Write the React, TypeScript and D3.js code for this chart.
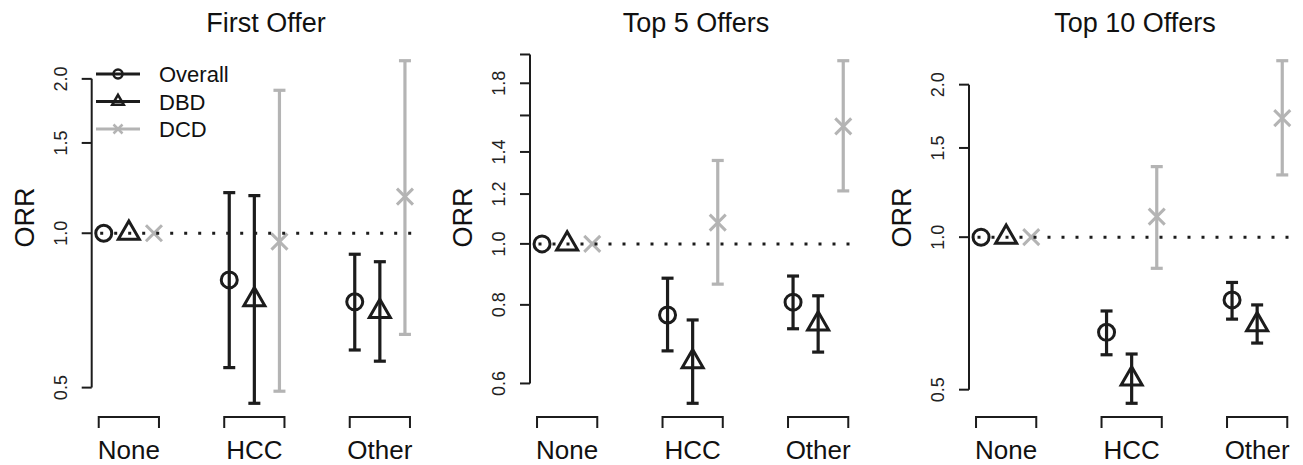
import React from 'react';
import * as d3 from 'd3';

// panel / group / series labels
const panelTitles = ['First Offer', 'Top 5 Offers', 'Top 10 Offers'];
const groups = ['None', 'HCC', 'Other'];
const seriesNames = ['Overall', 'DBD', 'DCD'];

// ORR estimates, rows = group (None, HCC, Other), cols = series (Overall, DBD, DCD)
const firstEst = [[1, 1, 1], [0.811, 0.742, 0.963], [0.735, 0.704, 1.179]];
const firstLo = [null, [0.547, 0.466, 0.492], [0.592, 0.563, 0.635]];
const firstHi = [null, [1.2, 1.184, 1.9], [0.91, 0.88, 2.17]];

const top5Est = [[1, 1, 1], [0.771, 0.65, 1.081], [0.808, 0.746, 1.537]];
const top5Lo = [null, [0.676, 0.558, 0.863], [0.733, 0.673, 1.214]];
const top5Hi = [null, [0.882, 0.757, 1.357], [0.889, 0.827, 1.955]];

const top10Est = [[1, 1, 1], [0.649, 0.525, 1.098], [0.752, 0.672, 1.718]];
const top10Lo = [null, [0.586, 0.47, 0.868], [0.689, 0.618, 1.327]];
const top10Hi = [null, [0.715, 0.588, 1.378], [0.814, 0.735, 2.23]];

// y tick values per panel
const firstTicks = [0.5, 1.0, 1.5, 2.0];
const top5Ticks = [0.6, 0.8, 1.0, 1.2, 1.4, 1.6, 1.8, 2.0];
const top10Ticks = [0.5, 1.0, 1.5, 2.0];

const panelData = [
  { est: firstEst, lo: firstLo, hi: firstHi, ticks: firstTicks },
  { est: top5Est, lo: top5Lo, hi: top5Hi, ticks: top5Ticks },
  { est: top10Est, lo: top10Lo, hi: top10Hi, ticks: top10Ticks },
];

const DARK = '#1c1c1c';
const GREY = '#b4b4b4';
const seriesColor = [DARK, DARK, GREY];
const FONT = '"Liberation Sans", Arial, Helvetica, sans-serif';

const panelLeft = [91.7, 530, 969];
const plotW = 325.3;
const plotTop = 47;
const plotBottom = 417;
const titleX = [266, 696, 1135];

const Marker = ({ type, x, y, size, color, sw }) => {
  if (type === 0) {
    return <circle cx={x} cy={y} r={size} fill="none" stroke={color} strokeWidth={sw} />;
  }
  if (type === 1) {
    const r = size * 1.555;
    const xc = size * 1.347;
    const yc = size * 0.7776;
    const pts = `${x},${y - r} ${x + xc},${y + yc} ${x - xc},${y + yc}`;
    return <polygon points={pts} fill="none" stroke={color} strokeWidth={sw} strokeLinejoin="miter" />;
  }
  const d = size;
  return (
    <path
      d={`M${x - d},${y - d}L${x + d},${y + d}M${x - d},${y + d}L${x + d},${y - d}`}
      stroke={color}
      strokeWidth={sw}
    />
  );
};

const Panel = ({ idx }) => {
  const { est, lo, hi, ticks } = panelData[idx];
  const left = panelLeft[idx];

  // position index like R: group g, series s -> 5g + s + 1, 4% padding on both scales
  const pos = (g, s) => 5 * g + s + 1;
  const x = d3.scaleLinear().domain([0.52, 13.48]).range([left, left + plotW]);

  const all = [];
  est.forEach((row, g) => row.forEach((v, s) => {
    all.push(v);
    if (lo[g]) all.push(lo[g][s]);
    if (hi[g]) all.push(hi[g][s]);
  }));
  const [mn, mx] = d3.extent(all.map(Math.log));
  const pad = (mx - mn) * 0.04;
  const y = d3.scaleLog().domain([Math.exp(mn - pad), Math.exp(mx + pad)]).range([plotBottom, plotTop]);

  // drop tick labels that would collide (like R's axis)
  const labelled = [];
  let lastY = null;
  ticks.forEach((t) => {
    const ty = y(t);
    if (lastY === null || Math.abs(lastY - ty) > 40) {
      labelled.push(t);
      lastY = ty;
    }
  });

  const y1 = y(1);
  const dotStart = x.range()[0];
  const dotEnd = x.range()[1];

  return (
    <g>
      <text x={titleX[idx]} y={32} textAnchor="middle" fontSize={27} fill="#111">
        {panelTitles[idx]}
      </text>

      {/* y axis */}
      <line x1={left} x2={left} y1={y(ticks[0])} y2={y(ticks[ticks.length - 1])} stroke={DARK} strokeWidth={2} />
      {ticks.map((t) => (
        <line key={t} x1={left - 10} x2={left} y1={y(t)} y2={y(t)} stroke={DARK} strokeWidth={2} />
      ))}
      {labelled.map((t) => (
        <text
          key={t}
          transform={`translate(${left - 25},${y(t)}) rotate(-90)`}
          textAnchor="middle"
          fontSize={18}
          fill="#222"
        >
          {t.toFixed(1)}
        </text>
      ))}
      <text
        transform={`translate(${left - 58},217.5) rotate(-90)`}
        textAnchor="middle"
        fontSize={27}
        fill="#111"
      >
        ORR
      </text>

      {/* group brackets */}
      {groups.map((gName, g) => {
        const a = x(pos(g, 0) - 0.2);
        const b = x(pos(g, 2) + 0.2);
        return (
          <g key={gName}>
            <path d={`M${a},428V417H${b}V428`} fill="none" stroke={DARK} strokeWidth={2} />
            <text x={x(pos(g, 1))} y={459} textAnchor="middle" fontSize={26} fill="#111">
              {gName}
            </text>
          </g>
        );
      })}

      {/* confidence intervals */}
      {est.map((row, g) =>
        row.map((v, s) => {
          if (!lo[g]) return null;
          const cx = x(pos(g, s));
          const a = y(lo[g][s]);
          const b = y(hi[g][s]);
          return (
            <g key={`ci${g}${s}`} stroke={seriesColor[s]} strokeWidth={3.2}>
              <line x1={cx} x2={cx} y1={a} y2={b} />
              <line x1={cx - 6} x2={cx + 6} y1={a} y2={a} />
              <line x1={cx - 6} x2={cx + 6} y1={b} y2={b} />
            </g>
          );
        })
      )}

      {/* point estimates */}
      {est.map((row, g) =>
        row.map((v, s) => (
          <Marker key={`m${g}${s}`} type={s} x={x(pos(g, s))} y={y(v)} size={s === 1 ? 7.8 : 8} color={seriesColor[s]} sw={3} />
        ))
      )}

      {/* reference line at ORR = 1 */}
      <line
        x1={dotStart}
        x2={dotEnd}
        y1={y1}
        y2={y1}
        stroke={DARK}
        strokeWidth={3}
        strokeDasharray="3 11"
        strokeDashoffset={5.5}
      />
    </g>
  );
};

const Legend = () => {
  const rows = [74, 101.5, 129];
  return (
    <g>
      {seriesNames.map((name, s) => (
        <g key={name}>
          <line x1={96} x2={140} y1={rows[s]} y2={rows[s]} stroke={seriesColor[s]} strokeWidth={3} />
          <Marker type={s} x={118} y={rows[s]} size={s === 1 ? 4.3 : 4.5} color={seriesColor[s]} sw={2.5} />
          <text x={159} y={rows[s] + 8} fontSize={22} fill="#111">
            {name}
          </text>
        </g>
      ))}
    </g>
  );
};

export default function App() {
  return (
    <svg
      width={1303}
      height={465}
      style={{ position: 'absolute', left: 0, top: 0, background: '#fff' }}
      fontFamily={FONT}
    >
      <rect width={1303} height={465} fill="#fff" />
      {panelTitles.map((t, i) => (
        <Panel key={t} idx={i} />
      ))}
      <Legend />
    </svg>
  );
}
